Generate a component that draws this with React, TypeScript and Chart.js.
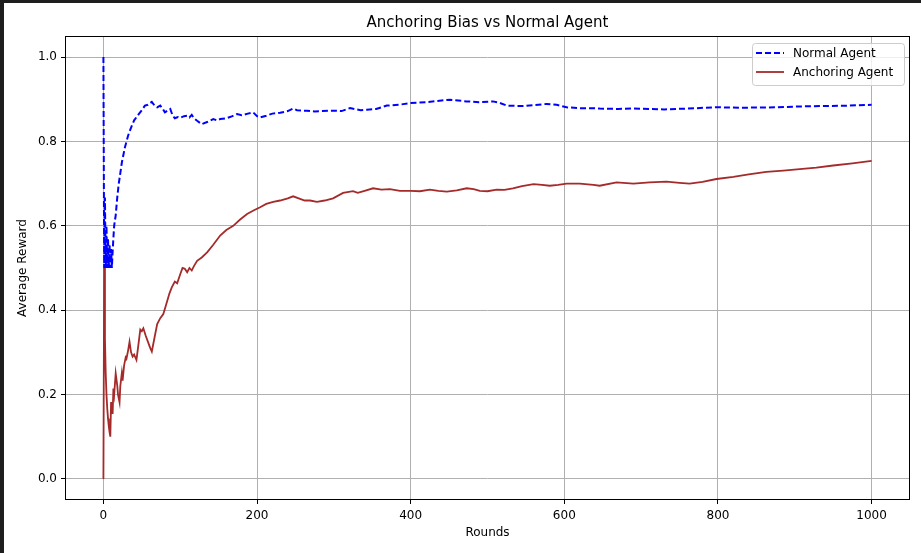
import React, { useEffect, useRef } from "react";
import { Chart, registerables } from "chart.js";

Chart.register(...registerables);

const chartTitle = "Anchoring Bias vs Normal Agent";
const xAxisLabel = "Rounds";
const yAxisLabel = "Average Reward";
const seriesNames = ["Normal Agent", "Anchoring Agent"];

const xTickValues = [0, 200, 400, 600, 800, 1000];
const yTickValues = [0, 0.2, 0.4, 0.6, 0.8, 1.0];

const normalRounds = [
  0, 1, 2, 3, 4, 5, 6, 7, 8, 9,
  10, 11, 12, 13, 14, 16, 18, 20, 24, 28,
  32, 36, 40, 46, 50, 54, 58, 63, 67, 70,
  74, 77, 80, 84, 87, 90, 93, 97, 100, 105,
  109, 112, 115, 118, 122, 128, 135, 143, 148, 152,
  160, 168, 174, 180, 188, 195, 200, 204, 212, 220,
  230, 240, 247, 252, 258, 265, 275, 285, 299, 310,
  321, 335, 343, 355, 369, 385, 399, 420, 435, 451,
  462, 473, 490, 507, 515, 525, 545, 560, 577, 590,
  603, 620, 637, 646, 670, 690, 711, 730, 760, 798,
  830, 876, 906, 940, 970, 1000,
];
const normalReward = [
  1.0, 0.5, 0.667, 0.5, 0.6, 0.5, 0.571, 0.5, 0.556, 0.5,
  0.545, 0.5, 0.538, 0.571, 0.6, 0.625, 0.667, 0.7, 0.75, 0.786,
  0.813, 0.833, 0.85, 0.865, 0.874, 0.885, 0.887, 0.894, 0.884, 0.881,
  0.885, 0.878, 0.869, 0.874, 0.877, 0.862, 0.855, 0.858, 0.856, 0.86,
  0.861, 0.857, 0.863, 0.855, 0.849, 0.841, 0.846, 0.853, 0.85, 0.853,
  0.855, 0.86, 0.865, 0.862, 0.866, 0.869, 0.86, 0.857, 0.861, 0.866,
  0.868, 0.872, 0.878, 0.874, 0.873, 0.873, 0.871, 0.872, 0.873, 0.872,
  0.879, 0.874, 0.875, 0.877, 0.885, 0.887, 0.891, 0.893, 0.896, 0.899,
  0.897, 0.895, 0.893, 0.895, 0.892, 0.885, 0.884, 0.886, 0.889, 0.887,
  0.881, 0.879, 0.879, 0.878, 0.877, 0.878, 0.877, 0.876, 0.878, 0.881,
  0.88, 0.881, 0.883, 0.884, 0.885, 0.887,
];

const anchoringRounds = [
  0, 1, 2, 3, 4, 5, 6, 7, 8, 9,
  10, 11, 12, 13, 14, 16, 18, 19, 21, 22,
  24, 25, 27, 29, 30, 32, 34, 36, 38, 40,
  42, 43, 45, 48, 50, 52, 55, 58, 61, 63,
  66, 70, 74, 78, 82, 86, 89, 93, 96, 100,
  103, 106, 109, 112, 115, 118, 122, 128, 135, 143,
  152, 160, 169, 178, 187, 196, 204, 212, 221, 230,
  240, 247, 256, 262, 269, 278, 288, 299, 312, 325,
  331, 340, 351, 362, 373, 386, 400, 412, 425, 436,
  447, 460, 473, 482, 490, 500, 512, 522, 533, 545,
  560, 571, 581, 592, 603, 620, 638, 646, 668, 690,
  711, 733, 750, 763, 780, 798, 820, 840, 863, 885,
  910, 928, 950, 975, 1000,
];
const anchoringReward = [
  0, 0.5, 0.333, 0.25, 0.2, 0.167, 0.143, 0.125, 0.111, 0.1,
  0.182, 0.167, 0.154, 0.214, 0.2, 0.25, 0.222, 0.2, 0.182, 0.22,
  0.251, 0.233, 0.27, 0.288, 0.285, 0.303, 0.325, 0.3, 0.29, 0.295,
  0.286, 0.282, 0.31, 0.354, 0.35, 0.357, 0.34, 0.325, 0.31, 0.302,
  0.33, 0.367, 0.381, 0.391, 0.415, 0.44, 0.454, 0.468, 0.464, 0.485,
  0.5, 0.498, 0.49, 0.5, 0.494, 0.505, 0.517, 0.525, 0.537, 0.555,
  0.577, 0.59, 0.6, 0.615, 0.628, 0.637, 0.644, 0.652, 0.657, 0.66,
  0.665, 0.67, 0.664, 0.66, 0.66, 0.657, 0.66, 0.665, 0.678, 0.682,
  0.678, 0.683, 0.689, 0.686, 0.687, 0.683, 0.683, 0.682, 0.686, 0.683,
  0.681, 0.684, 0.689, 0.687, 0.683, 0.682, 0.686, 0.685, 0.689, 0.694,
  0.699, 0.697, 0.695, 0.697, 0.7, 0.7, 0.697, 0.695, 0.703, 0.7,
  0.703, 0.705, 0.702, 0.7, 0.704, 0.711, 0.716, 0.722, 0.728, 0.731,
  0.735, 0.738, 0.743, 0.748, 0.754,
];

const FONT = "'DejaVu Sans', 'Liberation Sans', sans-serif";
const seriesColors = ["#0000ff", "#a52a2a"];

const decorPlugin = {
  id: "mplDecor",
  afterDatasetsDraw(chart: any) {
    const { ctx, chartArea } = chart;
    const { left, right, top, bottom } = chartArea;
    ctx.save();
    // spines
    ctx.strokeStyle = "#000000";
    ctx.lineWidth = 1;
    ctx.strokeRect(Math.round(left) + 0.5, Math.round(top) + 0.5, Math.round(right - left) - 1, Math.round(bottom - top) - 1);

    // title
    ctx.fillStyle = "#000000";
    ctx.textAlign = "center";
    ctx.textBaseline = "middle";
    ctx.font = `15px ${FONT}`;
    ctx.fillText(chartTitle, (left + right) / 2, top - 13);

    // axis labels
    ctx.font = `12px ${FONT}`;
    ctx.fillText(xAxisLabel, (left + right) / 2, bottom + 33);
    ctx.save();
    ctx.translate(19, (top + bottom) / 2);
    ctx.rotate(-Math.PI / 2);
    ctx.fillText(yAxisLabel, 0, 0);
    ctx.restore();

    // legend
    const bx = right - 158;
    const by = top + 7;
    const bw = 152;
    const bh = 42;
    ctx.beginPath();
    if (ctx.roundRect) ctx.roundRect(bx + 0.5, by + 0.5, bw, bh, 3);
    else ctx.rect(bx + 0.5, by + 0.5, bw, bh);
    ctx.fillStyle = "rgba(255,255,255,0.8)";
    ctx.fill();
    ctx.strokeStyle = "#cccccc";
    ctx.lineWidth = 1;
    ctx.stroke();

    ctx.textAlign = "left";
    ctx.font = `12px ${FONT}`;
    chart.data.datasets.forEach((ds: any, i: number) => {
      const rowY = by + 10 + i * 19;
      ctx.beginPath();
      ctx.strokeStyle = ds.borderColor;
      ctx.lineWidth = ds.borderWidth;
      ctx.setLineDash(ds.borderDash || []);
      ctx.moveTo(bx + 4, rowY);
      ctx.lineTo(bx + 32, rowY);
      ctx.stroke();
      ctx.setLineDash([]);
      ctx.fillStyle = "#000000";
      ctx.fillText(ds.label, bx + 41, rowY + 1);
    });
    ctx.restore();
  },
};

export default function App() {
  const canvasRef = useRef<HTMLCanvasElement | null>(null);

  useEffect(() => {
    document.body.style.margin = "0";
    const canvas = canvasRef.current;
    if (!canvas) return;

    const normalData = normalRounds.map((x, i) => ({ x, y: normalReward[i] }));
    const anchoringData = anchoringRounds.map((x, i) => ({ x, y: anchoringReward[i] }));

    const chart = new Chart(canvas, {
      type: "line",
      data: {
        datasets: [
          {
            label: seriesNames[0],
            data: normalData,
            borderColor: seriesColors[0],
            borderWidth: 2,
            borderDash: [6, 3],
            pointRadius: 0,
            tension: 0,
            fill: false,
          },
          {
            label: seriesNames[1],
            data: anchoringData,
            borderColor: seriesColors[1],
            borderWidth: 1.8,
            pointRadius: 0,
            tension: 0,
            fill: false,
          },
        ],
      },
      options: {
        animation: false,
        responsive: false,
        devicePixelRatio: 1,
        layout: { padding: { left: 0, top: 33, right: 11, bottom: 0 } },
        plugins: {
          legend: { display: false },
          title: { display: false },
          tooltip: { enabled: false },
        },
        scales: {
          x: {
            type: "linear",
            min: -50,
            max: 1050,
            afterBuildTicks: (s: any) => {
              s.ticks = xTickValues.map((v) => ({ value: v }));
            },
            afterFit: (s: any) => {
              s.height = 53;
            },
            grid: {
              color: "#b0b0b0",
              lineWidth: 1,
              drawTicks: true,
              tickLength: 4,
              tickColor: "#000000",
              tickWidth: 1,
            },
            border: { display: false },
            ticks: {
              color: "#000000",
              font: { family: FONT, size: 12 },
              padding: 5,
              maxRotation: 0,
              autoSkip: false,
              callback: (v: any) => String(v),
            },
          },
          y: {
            type: "linear",
            min: -0.05,
            max: 1.05,
            afterBuildTicks: (s: any) => {
              s.ticks = yTickValues.map((v) => ({ value: v }));
            },
            afterFit: (s: any) => {
              s.width = 61;
            },
            grid: {
              color: "#b0b0b0",
              lineWidth: 1,
              drawTicks: true,
              tickLength: 4,
              tickColor: "#000000",
              tickWidth: 1,
            },
            border: { display: false },
            ticks: {
              color: "#000000",
              font: { family: FONT, size: 12 },
              padding: 4,
              autoSkip: false,
              callback: (v: any) => Number(v).toFixed(1),
            },
          },
        },
      },
      plugins: [decorPlugin],
    });

    return () => {
      chart.destroy();
    };
  }, []);

  return (
    <div style={{ position: "relative", width: 921, height: 553, background: "#1e1e1e", overflow: "hidden" }}>
      <canvas
        ref={canvasRef}
        width={917}
        height={550}
        style={{ position: "absolute", left: 4, top: 3, width: 917, height: 550, background: "#ffffff" }}
      />
    </div>
  );
}
